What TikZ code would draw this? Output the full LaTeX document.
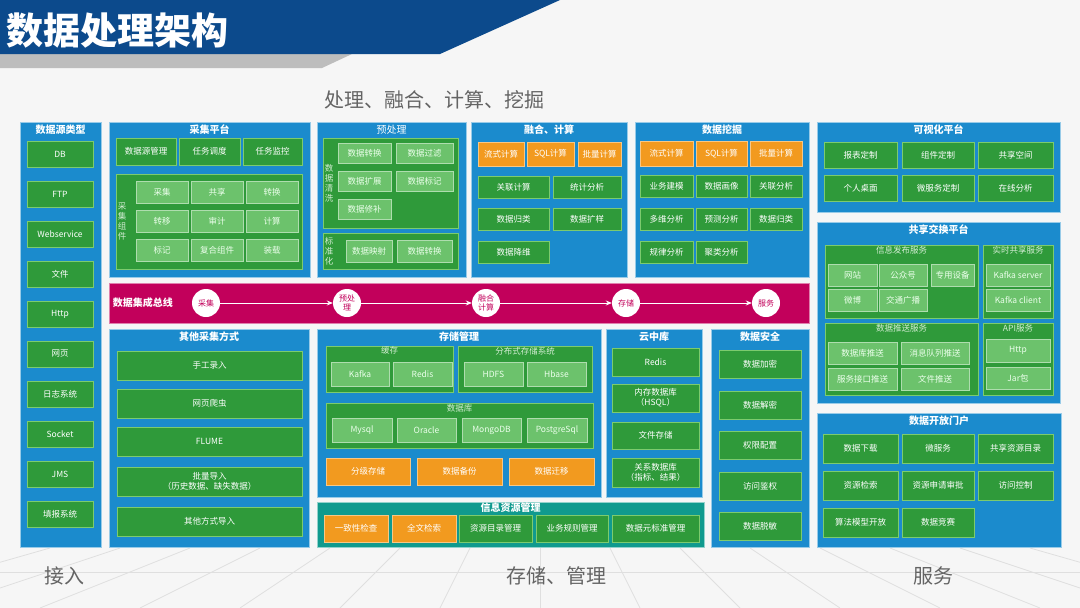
\documentclass[tikz,border=0pt]{standalone}
\usepackage{fontspec}
\setmainfont{Noto Sans CJK SC}
\usetikzlibrary{positioning,arrows.meta}

\definecolor{paper}{HTML}{F6F6F6}
\definecolor{banner}{HTML}{0C4A8C}
\definecolor{stripe}{HTML}{BDBDBD}
\definecolor{panel}{HTML}{1B8BCD}
\definecolor{leaf}{HTML}{2F9A3A}
\definecolor{leafedge}{HTML}{7CCB6E}
\definecolor{pale}{HTML}{6CC26C}
\definecolor{amber}{HTML}{F29A1F}
\definecolor{infoteal}{HTML}{109A8E}
\definecolor{busred}{HTML}{C2005B}
\definecolor{capgray}{HTML}{646464}

\newcommand{\itemfont}{\fontsize{8.5}{10}\selectfont}
% box from corner (x1,y1) to corner (x2,y2)
\newcommand{\blk}[7][]{%
  \node[#1, minimum width={((#5)-(#3))*1pt}, minimum height={((#6)-(#4))*1pt}]
    (#2) at ({((#3)+(#5))/2},{((#4)+(#6))/2}) {#7};}

\tikzset{
  panelbox/.style={draw=panel!45!white, line width=0.8pt, fill=panel, inner sep=0pt},
  tealbox/.style={panelbox, draw=infoteal!45!white, fill=infoteal},
  ttl/.style={text=white, font=\fontsize{10}{12}\selectfont\bfseries, inner sep=1pt},
  ttlthin/.style={ttl, font=\fontsize{10}{12}\selectfont},
  groupbox/.style={draw=leafedge, line width=0.7pt, fill=leaf, inner sep=0pt},
  subttl/.style={text=pale!30!white, font=\itemfont, inner sep=1pt},
  vlabel/.style={text=pale!30!white, font=\fontsize{8.5}{10}\selectfont, align=center, inner sep=0pt},
  leafbox/.style={draw=leafedge, line width=0.7pt, fill=leaf, text=white, font=\itemfont,
    align=center, inner sep=0pt},
  palebox/.style={leafbox, fill=pale, draw=pale!55!white, text=white!92!green},
  amberbox/.style={leafbox, fill=amber, draw=amber!55!white},
  busbox/.style={draw=busred!50!white, line width=0.8pt, fill=busred, inner sep=0pt},
  stop/.style={circle, fill=white, minimum size=28pt, inner sep=0pt, align=center,
    text=busred, font=\fontsize{8}{9}\selectfont},
  flow/.style={draw=white, line width=1pt, -{Stealth[length=6pt,width=5pt]}},
  caption/.style={text=capgray, font=\fontsize{20}{22}\selectfont, inner sep=0pt},
  headline/.style={text=white, font=\fontsize{37}{39}\selectfont\bfseries, inner sep=0pt},
  gridline/.style={draw=gray!25, line width=0.8pt}
}

\begin{document}
\begin{tikzpicture}[x=1pt,y=-1pt]
% background, floor lines and header
\fill[paper] (0,0) rectangle (1080,608);
\begin{scope}
  \clip (0,548) rectangle (1080,608);
  \foreach \i in {-8,...,8}
    \draw[gridline] (540+70*\i,548) -- (540+100*\i,608);
  \draw[gridline] (0,572) -- (1080,572);
\end{scope}
\fill[stripe] (0,54) -- (352,54) -- (322,68) -- (0,68) -- cycle;
\fill[banner] (0,0) -- (560,0) -- (440,54) -- (0,54) -- cycle;
\node[headline, anchor=west] (head) at (6,31) {数据处理架构};
\node[caption] (cap-top) at (434,100) {处理、融合、计算、挖掘};
\node[caption] (cap-in) at (64,576) {接入};
\node[caption] (cap-store) at (556,576) {存储、管理};
\node[caption] (cap-serve) at (933,576) {服务};

% data sources
\blk[panelbox]{src}{20}{122}{101}{547}{}
\node[ttl, below=2pt of src.north] (src-t) {数据源类型};
\foreach \t [count=\i from 0] in {DB,FTP,Webservice,文件,Http,网页,日志系统,Socket,JMS,填报系统}{
  \blk[leafbox]{src-\i}{27}{141+40*\i}{93}{167+40*\i}{\t}
}

% acquisition platform
\blk[panelbox]{acq}{109}{122}{310}{277}{}
\node[ttl, below=2pt of acq.north] (acq-t) {采集平台};
\foreach \t/\a/\b in {数据源管理/116/176,任务调度/179/240,任务监控/243/302}{
  \blk[leafbox]{acq-\a}{\a}{138}{\b}{165}{\t}
}
\blk[groupbox]{comp}{116}{174}{302}{269}{}
\node[vlabel, right=2pt of comp.west] (comp-t) {采\\集\\组\\件};
\foreach \t [count=\i from 0] in {采集,共享,转换,转移,审计,计算,标记,复合组件,装载}{
  \pgfmathtruncatemacro\c{mod(\i,3)}
  \pgfmathtruncatemacro\r{\i/3}
  \blk[palebox]{comp-\i}{136+55*\c}{181+29*\r}{188+55*\c}{203+29*\r}{\t}
}

% preprocessing
\blk[panelbox]{pre}{317}{122}{466}{277}{}
\node[ttlthin, below=2pt of pre.north] (pre-t) {预处理};
\blk[groupbox]{clean}{323}{138}{458}{228}{}
\node[vlabel, right=2pt of clean.west] (clean-t) {数\\据\\清\\洗};
\foreach \t/\a/\b/\y in {数据转换/338/391/143,数据过滤/396/453/143,数据扩展/338/391/171,
    数据标记/396/453/171,数据修补/338/391/199}{
  \blk[palebox]{clean-\a-\y}{\a}{\y}{\b}{\y+20}{\t}
}
\blk[groupbox]{norm}{323}{233}{458}{269}{}
\node[vlabel, right=2pt of norm.west] (norm-t) {标\\准\\化};
\blk[palebox]{norm-1}{346}{240}{392}{262}{数据映射}
\blk[palebox]{norm-2}{397}{240}{452}{262}{数据转换}

% fusion and computing
\blk[panelbox]{fuse}{471}{122}{627}{277}{}
\node[ttl, below=2pt of fuse.north] (fuse-t) {融合、计算};
\foreach \t/\a/\b in {流式计算/478/524,SQL计算/527/574,批量计算/578/621}{
  \blk[amberbox]{fuse-\a}{\a}{142}{\b}{166}{\t}
}
\foreach \t/\a/\b/\y in {关联计算/478/549/176,统计分析/553/621/176,数据归类/478/549/208,
    数据扩样/553/621/208,数据降维/478/549/241}{
  \blk[leafbox]{fuse-\a-\y}{\a}{\y}{\b}{\y+22}{\t}
}

% data mining
\blk[panelbox]{mine}{635}{122}{809}{277}{}
\node[ttl, below=2pt of mine.north] (mine-t) {数据挖掘};
\foreach \t/\a/\b in {流式计算/640/693,SQL计算/696/747,批量计算/750/802}{
  \blk[amberbox]{mine-\a}{\a}{141}{\b}{166}{\t}
}
\foreach \t/\a/\b/\y in {业务建模/640/693/175,数据画像/696/747/175,关联分析/750/802/175,
    多维分析/640/693/208,预测分析/696/747/208,数据归类/750/802/208,
    规律分析/640/693/241,聚类分析/696/747/241}{
  \blk[leafbox]{mine-\a-\y}{\a}{\y}{\b}{\y+22}{\t}
}

% integration bus
\blk[busbox]{bus}{109}{283}{809}{323}{}
\node[ttl, right=3pt of bus.west] (bus-t) {数据集成总线};
\foreach \t/\x in {采集/206,预处\\理/347,融合\\计算/486,存储/626,服务/766}{
  \node[stop] (stop-\x) at (\x,303) {\t};
}
\foreach \a/\b in {206/347,347/486,486/626,626/766}{
  \draw[flow] (stop-\a) -- (stop-\b);
}

% other acquisition
\blk[panelbox]{other}{109}{329}{309}{547}{}
\node[ttl, below=2pt of other.north] (other-t) {其他采集方式};
\foreach \t/\y in {手工录入/351,网页爬虫/389,FLUME/427,{批量导入\\（历史数据、缺失数据）}/467,其他方式导入/507}{
  \blk[leafbox]{other-\y}{117}{\y}{302}{\y+29}{\t}
}

% storage management
\blk[panelbox]{store}{317}{329}{601}{497}{}
\node[ttl, below=2pt of store.north] (store-t) {存储管理};
\blk[groupbox]{cache}{326}{346}{453}{392}{}
\node[subttl, below=0pt of cache.north] (cache-t) {缓存};
\blk[palebox]{cache-1}{331}{362}{389}{386}{Kafka}
\blk[palebox]{cache-2}{393}{362}{452}{386}{Redis}
\blk[groupbox]{dist}{458}{346}{592}{392}{}
\node[subttl, below=0pt of dist.north] (dist-t) {分布式存储系统};
\blk[palebox]{dist-1}{464}{362}{523}{386}{HDFS}
\blk[palebox]{dist-2}{527}{362}{586}{386}{Hbase}
\blk[groupbox]{db}{326}{403}{593}{448}{}
\node[subttl, below=0pt of db.north] (db-t) {数据库};
\foreach \t/\a/\b in {Mysql/332/392,Oracle/397/456,MongoDB/462/521,PostgreSql/527/587}{
  \blk[palebox]{db-\a}{\a}{418}{\b}{442}{\t}
}
\foreach \t/\a/\b in {分级存储/326/410,数据备份/417/502,数据迁移/509/594}{
  \blk[amberbox]{store-\a}{\a}{458}{\b}{485}{\t}
}

% information resources
\blk[tealbox]{info}{317}{502}{704}{547}{}
\node[ttl, below=0pt of info.north] (info-t) {信息资源管理};
\blk[amberbox]{info-1}{324}{515}{388}{542}{一致性检查}
\blk[amberbox]{info-2}{392}{515}{456}{542}{全文检索}
\foreach \t/\a/\b in {资源目录管理/459/532,业务规则管理/536/608,数据元标准管理/612/699}{
  \blk[leafbox]{info-\a}{\a}{515}{\b}{542}{\t}
}

% cloud store
\blk[panelbox]{cloud}{606}{329}{702}{497}{}
\node[ttl, below=2pt of cloud.north] (cloud-t) {云中库};
\foreach \t/\y/\h in {Redis/348/28,{内存数据库\\（HSQL）}/384/28,文件存储/422/27,{关系数据库\\（指标、结果）}/458/29}{
  \blk[leafbox]{cloud-\y}{612}{\y}{699}{\y+\h}{\t}
}

% data security
\blk[panelbox]{safe}{711}{329}{809}{547}{}
\node[ttl, below=2pt of safe.north] (safe-t) {数据安全};
\foreach \t/\y in {数据加密/350,数据解密/391,权限配置/431,访问鉴权/472,数据脱敏/512}{
  \blk[leafbox]{safe-\y}{719}{\y}{801}{\y+28}{\t}
}

% visualisation platform
\blk[panelbox]{vis}{817}{122}{1060}{212}{}
\node[ttl, below=2pt of vis.north] (vis-t) {可视化平台};
\foreach \t/\a/\b/\y in {报表定制/824/897/142,组件定制/902/974/142,共享空间/978/1053/142,
    个人桌面/824/897/175,微服务定制/902/974/175,在线分析/978/1053/175}{
  \blk[leafbox]{vis-\a-\y}{\a}{\y}{\b}{\y+26}{\t}
}

% sharing and exchange platform
\blk[panelbox]{share}{817}{222}{1060}{403}{}
\node[ttl, below=2pt of share.north] (share-t) {共享交换平台};
\blk[groupbox]{pub}{825}{245}{978}{318}{}
\node[subttl, below=0pt of pub.north] (pub-t) {信息发布服务};
\foreach \t/\a/\b/\y in {网站/828/877/264,公众号/879/927/264,专用设备/931/974/264,
    微博/828/877/289,交通广播/879/927/289}{
  \blk[palebox]{pub-\a-\y}{\a}{\y}{\b}{\y+22}{\t}
}
\blk[groupbox]{live}{983}{245}{1053}{318}{}
\node[subttl, below=0pt of live.north] (live-t) {实时共享服务};
\blk[palebox]{live-1}{986}{264}{1050}{286}{Kafka server}
\blk[palebox]{live-2}{986}{289}{1050}{311}{Kafka client}
\blk[groupbox]{push}{825}{323}{978}{395}{}
\node[subttl, below=0pt of push.north] (push-t) {数据推送服务};
\foreach \t/\a/\b/\y in {数据库推送/828/897/342,消息队列推送/901/969/342,
    服务接口推送/828/897/368,文件推送/901/969/368}{
  \blk[palebox]{push-\a-\y}{\a}{\y}{\b}{\y+22}{\t}
}
\blk[groupbox]{api}{983}{323}{1053}{395}{}
\node[subttl, below=0pt of api.north] (api-t) {API服务};
\blk[palebox]{api-1}{986}{339}{1050}{362}{Http}
\blk[palebox]{api-2}{986}{367}{1050}{389}{Jar包}

% open data portal
\blk[panelbox]{open}{817}{413}{1061}{547}{}
\node[ttl, below=2pt of open.north] (open-t) {数据开放门户};
\foreach \t/\a/\b/\y in {数据下载/823/898/434,微服务/902/974/434,共享资源目录/978/1053/434,
    资源检索/823/898/471,资源申请审批/902/974/471,访问控制/978/1053/471,
    算法模型开放/823/898/508,数据竞赛/902/974/508}{
  \blk[leafbox]{open-\a-\y}{\a}{\y}{\b}{\y+29}{\t}
}
\end{tikzpicture}
\end{document}
